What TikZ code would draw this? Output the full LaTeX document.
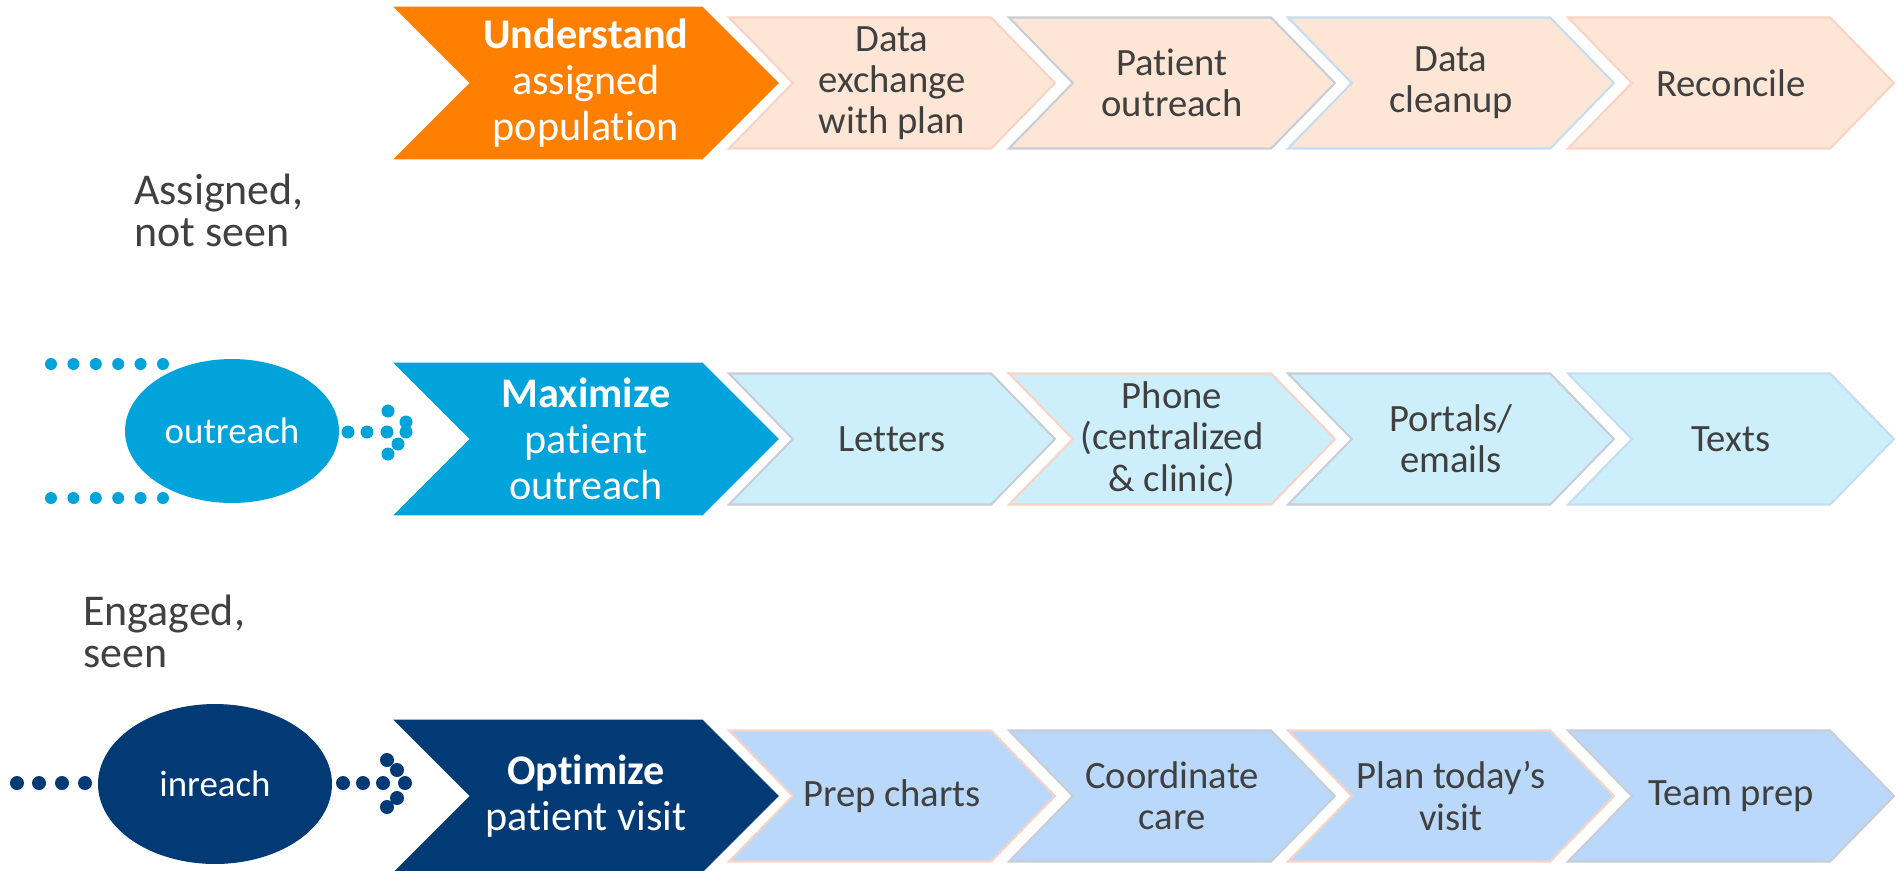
\documentclass[tikz,border=0pt]{standalone}
\usepackage{fontspec}
\setmainfont{Carlito}[Ligatures=NoCommon]
\usetikzlibrary{shapes.symbols,shapes.geometric,positioning}
\definecolor{PopOrange}{HTML}{FF8000}
\definecolor{PopPeach}{HTML}{FDE6D5}
\definecolor{OutCyan}{HTML}{00A3DA}
\definecolor{OutIce}{HTML}{CDEFFC}
\definecolor{VisNavy}{HTML}{023A76}
\definecolor{VisSky}{HTML}{BAD8F9}
\definecolor{TextGrey}{HTML}{404040}
\definecolor{EdgePink}{HTML}{F9D3C6}
\definecolor{EdgeGrey}{HTML}{C9CDD6}
\definecolor{EdgeBlue}{HTML}{C5DDF0}

\begin{document}
\begin{tikzpicture}[
    x=0.02cm,y=-0.02cm,
    lead/.style={signal,signal from=west,signal to=east,signal pointer angle=90,
      minimum width=7.72cm,minimum height=3.06cm,inner sep=0pt,
      text=white,font=\fontsize{24}{26}\selectfont,align=center},
    stage/.style={signal,signal from=west,signal to=east,signal pointer angle=91.5,
      minimum width=6.52cm,minimum height=2.62cm,inner sep=0pt,line width=1.2pt,
      text=TextGrey,font=\fontsize{22}{23.5}\selectfont,align=center},
    side/.style={text=TextGrey,font=\fontsize{25}{24}\selectfont,
      align=left,anchor=west,inner sep=0pt},
    loop/.style={ellipse,text=white,font=\fontsize{21}{25}\selectfont,inner sep=0pt}
  ]
  \useasboundingbox (0,0) rectangle (1904,870);

  % row 1: understand the population
  \node[lead,fill=PopOrange] (u0) at (586,83)
    {\textbf{Understand}\\assigned\\population};
  \node[stage,fill=PopPeach,draw=EdgePink] (u1) at (892,83) {Data\\exchange\\with plan};
  \node[stage,fill=PopPeach,draw=EdgeGrey] (u2) at (1172,83) {Patient\\outreach};
  \node[stage,fill=PopPeach,draw=EdgeBlue] (u3) at (1451,83) {Data\\cleanup};
  \node[stage,fill=PopPeach,draw=EdgePink] (u4) at (1731,83) {Reconcile};

  \node[side] (assigned) at (134,210) {Assigned,\\not seen};

  % row 2: outreach
  \node[lead,fill=OutCyan] (m0) at (586,439)
    {\textbf{Maximize}\\patient\\outreach};
  \node[stage,fill=OutIce,draw=EdgeGrey] (m1) at (892,439) {Letters};
  \node[stage,fill=OutIce,draw=EdgePink] (m2) at (1172,439) {Phone\\(centralized\\\& clinic)};
  \node[stage,fill=OutIce,draw=EdgeGrey] (m3) at (1451,439) {Portals/\\emails};
  \node[stage,fill=OutIce,draw=EdgeBlue] (m4) at (1731,439) {Texts};

  \node[loop,fill=OutCyan,minimum width=4.28cm,minimum height=2.88cm] (outreach) at (232,431) {outreach};
  \foreach \x in {0,...,5} {
    \fill[OutCyan] (51+22.4*\x,364) circle[radius=6];
    \fill[OutCyan] (51+22.4*\x,498) circle[radius=6];
  }
  \foreach \p in {(348,432),(367,432),(387,432),(388,411),(406,422),(406,432),(398,444),(388,454)}
    \fill[OutCyan] \p circle[radius=6.5];

  \node[side] (engaged) at (83,631) {Engaged,\\seen};

  % row 3: the visit itself
  \node[lead,fill=VisNavy] (o0) at (586,796)
    {\textbf{Optimize}\\patient visit};
  \node[stage,fill=VisSky,draw=EdgePink] (o1) at (892,796) {Prep charts};
  \node[stage,fill=VisSky,draw=EdgeGrey] (o2) at (1172,796) {Coordinate\\care};
  \node[stage,fill=VisSky,draw=EdgePink] (o3) at (1451,796) {Plan today’s\\visit};
  \node[stage,fill=VisSky,draw=EdgeGrey] (o4) at (1731,796) {Team prep};

  \node[loop,fill=VisNavy,minimum width=4.68cm,minimum height=3.2cm] (inreach) at (215,784) {inreach};
  \foreach \x in {17,39,62,85}
    \fill[VisNavy] (\x,783) circle[radius=7];
  \foreach \p in {(343,783),(363,783),(383,783),(387,760),(397,770),(405,783),(397,798),(387,807)}
    \fill[VisNavy] \p circle[radius=7];
\end{tikzpicture}
\end{document}
